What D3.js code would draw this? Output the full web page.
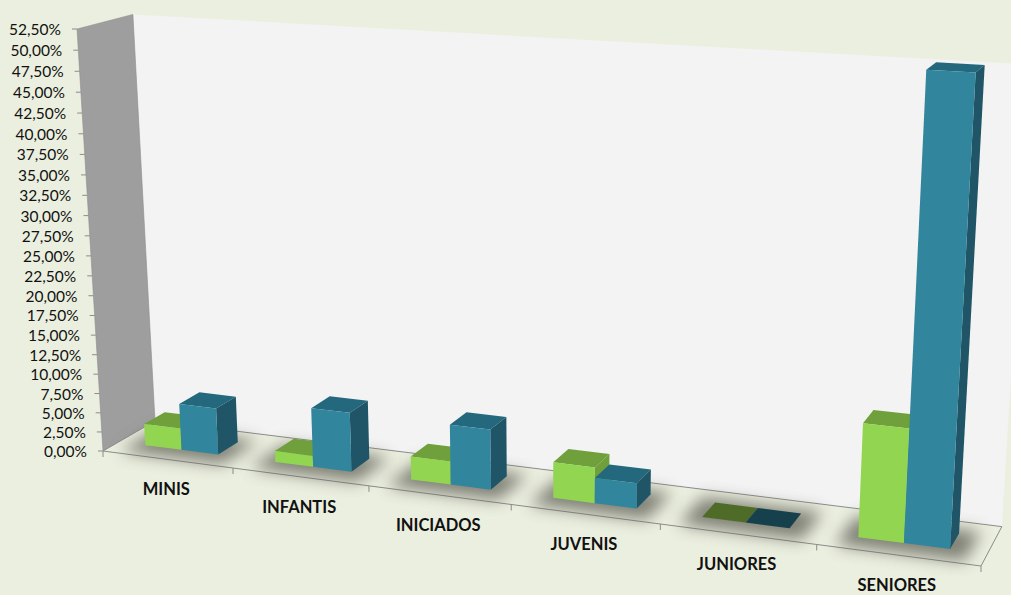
<!DOCTYPE html>
<html>
<head>
<meta charset="utf-8">
<script src="https://cdn.jsdelivr.net/npm/d3@7"></script>
<style>
  html, body { margin: 0; padding: 0; background: #EBEFDF; }
  svg { display: block; }
  text { font-family: Lato, "Open Sans", sans-serif; fill: #111; }
</style>
</head>
<body>
<svg id="chart"></svg>
<script>
// Data
const categories = ["MINIS", "INFANTIS", "INICIADOS", "JUVENIS", "JUNIORES", "SENIORES"];
const greenValues = [2.8, 1.4, 2.9, 4.4, 0, 13.4];
const blueValues = [6.0, 7.5, 7.5, 3.1, 0, 52.8];
const yTicks = [0, 2.5, 5, 7.5, 10, 12.5, 15, 17.5, 20, 22.5, 25, 27.5, 30, 32.5, 35, 37.5, 40, 42.5, 45, 47.5, 50, 52.5];

const width = 1011, height = 595;

// Scales into the unit box: u along the categories, v up the values, d into the depth
const uScale = d3.scaleLinear().domain([0, categories.length]).range([0, 1]);
const vScale = d3.scaleLinear().domain([0, 52.5]).range([0, 1]);

// Corners of the box on screen, and the perspective weight of each one
const origin = [103, 451],
      cornerU = [981, 566], wU = 0.869,
      cornerV = [77, 29], wV = 0.946,
      cornerD = [155, 421], wD = 1.04;

const project = (cat, val, d) => {
    const u = uScale(cat), v = vScale(val);
    const w = 1 + u * (wU - 1) + v * (wV - 1) + d * (wD - 1);
    const at = (i) => origin[i]
        + u * (wU * cornerU[i] - origin[i])
        + v * (wV * cornerV[i] - origin[i])
        + d * (wD * cornerD[i] - origin[i]);
    return [at(0) / w, at(1) / w];
};

const svg = d3.select("#chart").attr("width", width).attr("height", height);
const line = d3.line();
const poly = (pts) => line(pts) + "Z";

const defs = svg.append("defs");
defs.append("filter").attr("id", "soft")
    .attr("x", "-40%").attr("y", "-100%").attr("width", "180%").attr("height", "300%")
    .append("feGaussianBlur").attr("stdDeviation", 8);

const vMax = 52.5, nCat = categories.length;

// Walls and floor
svg.append("path")
    .attr("d", poly([project(0, 0, 1), project(0, vMax, 1), project(nCat, vMax, 1), project(nCat, 0, 1)]))
    .attr("fill", "#F3F3F3");
svg.append("path")
    .attr("d", poly([project(0, 0, 0), project(0, vMax, 0), project(0, vMax, 1), project(0, 0, 1)]))
    .attr("fill", "#9E9E9E").attr("stroke", "#8f8f8f").attr("stroke-width", 0.6);
svg.append("path")
    .attr("d", poly([project(0, 0, 0), project(nCat, 0, 0), project(nCat, 0, 1), project(0, 0, 1)]))
    .attr("fill", "#EBEFDF").attr("stroke", "#8c8c8c").attr("stroke-width", 1);

// Value ticks and labels
const yAxis = svg.append("g");
const fmt = (v) => v.toFixed(2).replace(".", ",") + "%";
yTicks.forEach((t) => {
    const p = project(0, t, 0);
    yAxis.append("line")
        .attr("x1", p[0] - 5).attr("y1", p[1]).attr("x2", p[0]).attr("y2", p[1])
        .attr("stroke", "#8c8c8c");
    yAxis.append("text")
        .attr("x", p[0] - 16).attr("y", p[1] + 6)
        .attr("text-anchor", "end").attr("font-size", 15.5)
        .text(fmt(t));
});

// Category ticks and labels
const xAxis = svg.append("g");
d3.range(0, nCat + 1).forEach((i) => {
    const p = project(i, 0, 0);
    xAxis.append("line")
        .attr("x1", p[0]).attr("y1", p[1]).attr("x2", p[0]).attr("y2", p[1] + 6)
        .attr("stroke", "#8c8c8c");
});
categories.forEach((c, i) => {
    const p = project(i + 0.5, 0, 0);
    xAxis.append("text")
        .attr("x", p[0] - 1).attr("y", p[1] + 36)
        .attr("text-anchor", "middle").attr("font-size", 16.5).attr("font-weight", 700)
        .text(c);
});

// Bars
const barW = 0.283, gapW = 0.208, d0 = 0.3, d1 = 0.7;
const series = [
    {values: greenValues, front: "#92D550", top: "#6FA03C", side: "#6FA03C", flat: "#4F6B28", offset: 0},
    {values: blueValues, front: "#31859C", top: "#23687C", side: "#1F5566", flat: "#17404D", offset: 1}
];

// Shadows first so that every bar stands on top of them
categories.forEach((c, i) => {
    const a = i + gapW, b = i + gapW + 2 * barW;
    svg.append("path")
        .attr("d", poly([project(a - 0.1, 0, d0 - 0.24), project(b + 0.12, 0, d0 - 0.24), project(b + 0.12, 0, d1 + 0.1), project(a - 0.1, 0, d1 + 0.1)]))
        .attr("fill", "#65665c").attr("opacity", 0.8).attr("filter", "url(#soft)");
});

categories.forEach((c, i) => {
    series.forEach((s) => {
        const a = i + gapW + s.offset * barW, b = a + barW, v = s.values[i];
        const g = svg.append("g");
        if (v === 0) {
            g.append("path")
                .attr("d", poly([project(a, 0, d0), project(b, 0, d0), project(b, 0, d1), project(a, 0, d1)]))
                .attr("fill", s.flat);
            return;
        }
        g.append("path")
            .attr("d", poly([project(a, v, d0), project(b, v, d0), project(b, v, d1), project(a, v, d1)]))
            .attr("fill", s.top);
        g.append("path")
            .attr("d", poly([project(b, 0, d0), project(b, 0, d1), project(b, v, d1), project(b, v, d0)]))
            .attr("fill", s.side);
        g.append("path")
            .attr("d", poly([project(a, 0, d0), project(b, 0, d0), project(b, v, d0), project(a, v, d0)]))
            .attr("fill", s.front);
    });
});
</script>
</body>
</html>
